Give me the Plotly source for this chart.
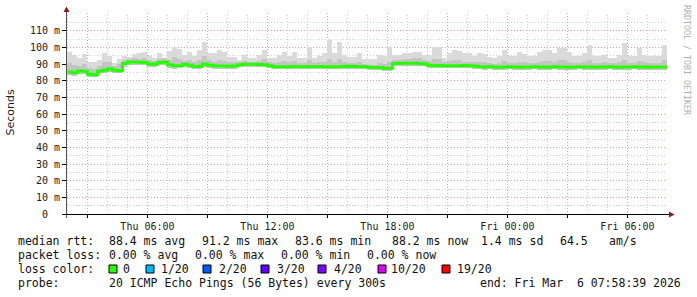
import plotly.graph_objects as go
import pandas as pd

# ---- data (ms), 15-minute buckets starting Thu 2026-03-05 02:00 ----
start_time = "2026-03-05 02:00:00"
period = "15min"

median_rtt = [
    85.2, 84.8, 85.8, 85.6, 83.8, 83.6, 85.8, 86.3, 87.1, 86.2,
    86.0, 90.3, 91.2, 91.2, 91.1, 90.9, 90.0, 89.8, 90.9, 91.2,
    89.5, 88.9, 88.9, 89.8, 89.2, 88.5, 88.6, 90.0, 89.2, 88.9,
    88.8, 88.8, 88.7, 88.8, 89.6, 89.8, 89.9, 89.8, 89.7, 89.6,
    89.0, 88.4, 88.3, 88.4, 88.4, 88.5, 88.4, 88.4, 88.3, 88.4,
    88.5, 88.4, 88.4, 88.3, 88.4, 88.5, 88.6, 88.5, 88.4, 88.4,
    88.0, 87.9, 87.9, 87.4, 87.4, 90.3, 90.4, 90.4, 90.5, 90.4,
    90.3, 90.2, 89.3, 89.0, 89.1, 89.0, 88.9, 89.0, 89.0, 89.1,
    88.9, 88.8, 88.3, 88.2, 88.3, 88.2, 88.1, 88.2, 88.3, 88.2,
    88.1, 88.2, 88.2, 88.3, 88.2, 88.1, 88.2, 88.3, 88.2, 88.2,
    88.1, 88.2, 88.3, 88.2, 88.2, 88.1, 88.2, 88.2, 88.3, 88.2,
    88.1, 88.2, 88.2, 88.3, 88.2, 88.2, 88.1, 88.2, 88.2, 88.2,
]

smoke_max = [
    97.5, 95.5, 93.6, 96.0, 91.0, 91.5, 92.5, 96.5, 95.0, 90.5,
    93.0, 94.6, 94.0, 96.0, 96.5, 97.5, 95.0, 93.5, 96.5, 92.5,
    98.0, 100.5, 99.0, 95.5, 97.5, 94.6, 98.5, 103.5, 96.5, 96.5,
    98.5, 97.0, 94.0, 94.0, 92.5, 95.6, 93.5, 93.5, 95.6, 98.5,
    93.5, 93.5, 95.6, 97.5, 94.6, 97.5, 93.5, 93.5, 100.5, 93.5,
    95.0, 96.5, 104.6, 96.5, 103.5, 95.6, 94.0, 94.0, 96.5, 93.0,
    93.0, 93.0, 95.5, 94.6, 100.5, 95.6, 95.6, 96.5, 96.5, 97.5,
    97.5, 95.6, 95.6, 100.5, 100.5, 93.5, 96.5, 98.5, 98.0, 96.5,
    96.5, 94.6, 96.5, 96.0, 94.0, 93.5, 94.6, 98.5, 94.6, 94.6,
    97.5, 96.0, 94.6, 94.6, 97.5, 98.5, 98.5, 96.5, 99.5, 99.5,
    97.5, 94.6, 94.6, 96.5, 101.6, 94.6, 94.6, 95.6, 93.5, 93.5,
    95.6, 102.6, 94.6, 94.6, 99.5, 95.6, 94.6, 94.6, 94.6, 101.6,
]

smoke_mid = [
    90.5, 89.5, 89.0, 90.0, 87.5, 87.0, 89.0, 91.0, 91.5, 89.0,
    90.0, 92.5, 93.0, 93.5, 93.0, 93.5, 92.5, 92.0, 93.0, 93.5,
    92.5, 94.0, 93.0, 92.0, 92.5, 91.0, 92.5, 95.0, 92.5, 91.5,
    92.5, 92.0, 91.0, 91.0, 91.5, 92.0, 91.5, 91.5, 92.0, 93.0,
    91.0, 90.5, 91.5, 92.0, 91.0, 92.0, 90.5, 90.5, 92.5, 90.5,
    91.0, 91.5, 93.0, 91.5, 93.0, 91.0, 90.5, 90.5, 91.5, 90.0,
    89.5, 89.5, 90.5, 90.0, 91.5, 92.5, 92.5, 93.0, 93.0, 93.5,
    93.5, 92.5, 92.0, 93.0, 93.0, 91.0, 92.0, 92.5, 92.5, 91.5,
    91.5, 91.0, 91.0, 91.0, 90.5, 90.0, 90.5, 92.0, 90.5, 90.5,
    91.5, 91.0, 90.5, 90.5, 91.5, 92.0, 92.0, 91.0, 92.5, 92.5,
    91.5, 90.5, 90.5, 91.5, 92.5, 90.5, 90.5, 91.0, 90.5, 90.5,
    91.0, 92.5, 90.5, 90.5, 92.0, 91.0, 90.5, 90.5, 90.5, 92.5,
]

smoke_min = [
    83.5, 83.0, 84.0, 84.0, 82.5, 82.3, 84.0, 84.5, 85.5, 84.5,
    84.5, 88.5, 89.5, 89.5, 89.5, 89.3, 88.5, 88.3, 89.3, 89.5,
    87.8, 87.3, 87.4, 88.2, 87.6, 87.0, 87.1, 88.3, 87.6, 87.3,
    87.2, 87.3, 87.2, 87.2, 88.0, 88.2, 88.3, 88.2, 88.1, 88.0,
    87.4, 86.9, 86.8, 86.9, 86.9, 87.0, 86.9, 86.9, 86.8, 86.9,
    87.0, 86.9, 86.9, 86.8, 86.9, 87.0, 87.1, 87.0, 86.9, 86.9,
    86.5, 86.3, 86.3, 85.9, 85.9, 88.8, 88.9, 88.9, 89.0, 88.9,
    88.8, 88.7, 87.8, 87.5, 87.6, 87.5, 87.4, 87.5, 87.5, 87.6,
    87.4, 87.3, 86.8, 86.7, 86.8, 86.7, 86.6, 86.7, 86.8, 86.7,
    86.6, 86.7, 86.7, 86.8, 86.7, 86.6, 86.7, 86.8, 86.7, 86.7,
    86.6, 86.7, 86.8, 86.7, 86.7, 86.6, 86.7, 86.7, 86.8, 86.7,
    86.6, 86.7, 86.7, 86.8, 86.7, 86.7, 86.6, 86.7, 86.7, 86.7,
]

y_tick_vals = [0, 10, 20, 30, 40, 50, 60, 70, 80, 90, 100, 110]
y_tick_text = ["0\u00a0\u00a0", "10 m", "20 m", "30 m", "40 m", "50 m", "60 m",
               "70 m", "80 m", "90 m", "100 m", "110 m"]
x_label_times = ["2026-03-05 06:00", "2026-03-05 12:00", "2026-03-05 18:00",
                 "2026-03-06 00:00", "2026-03-06 06:00"]
x_label_text = ["Thu 06:00", "Thu 12:00", "Thu 18:00", "Fri 00:00", "Fri 06:00"]
x_start = "2026-03-05 01:58:39"
x_end = "2026-03-06 07:58:39"

loss_labels = ["0", "1/20", "2/20", "3/20", "4/20", "10/20", "19/20"]
loss_colors = ["#26ff00", "#00b8ff", "#0059ff", "#5e00ff", "#7e00ff", "#dd00ff", "#ff0000"]

# ---- geometry helpers (pixel -> paper) ----
W, H = 697, 297
ML, MR, MT, MB = 67, 30, 13, 83
PW, PH = W - ML - MR, H - MT - MB


def px(x):
    return (x - ML) / PW


def py(y):
    return (H - MB - y) / PH


times = pd.date_range(start_time, periods=len(median_rtt), freq=period)
step = pd.Timedelta(period)
centers = times + step / 2
width_ms = step.total_seconds() * 1000

fig = go.Figure()

# outer smoke
fig.add_trace(go.Bar(
    x=centers, base=smoke_min, y=[h - l for h, l in zip(smoke_max, smoke_min)],
    width=width_ms, marker=dict(color="#dadada", line=dict(width=0)),
    hoverinfo="skip", showlegend=False))
# inner smoke
fig.add_trace(go.Bar(
    x=centers, base=smoke_min, y=[h - l for h, l in zip(smoke_mid, smoke_min)],
    width=width_ms, marker=dict(color="#c4c4c4", line=dict(width=0)),
    hoverinfo="skip", showlegend=False))

# median line (green: 0 loss)
line_x = list(times) + [times[-1] + step]
line_y = list(median_rtt) + [median_rtt[-1]]
fig.add_trace(go.Scatter(
    x=line_x, y=line_y, mode="lines", line=dict(color=loss_colors[0], width=3, shape="hv"),
    hoverinfo="skip", showlegend=False))

mono = "DejaVu Sans Mono"

fig.update_layout(
    width=W, height=H,
    margin=dict(l=ML, r=MR, t=MT, b=MB, pad=0),
    paper_bgcolor="white", plot_bgcolor="white",
    barmode="overlay", bargap=0,
    showlegend=False,
    font=dict(family=mono, size=10, color="#222"),
)

fig.update_xaxes(
    type="date", range=[x_start, x_end],
    tickmode="array", tickvals=x_label_times, ticktext=x_label_text,
    showgrid=True, gridcolor="#e6a0a0", griddash="1px,2px", gridwidth=1,
    ticks="outside", ticklen=3, tickcolor="#000",
    tickfont=dict(family=mono, size=10, color="#222"),
    minor=dict(dtick=3 * 3600000, tick0="2026-03-05 03:00", showgrid=True,
               gridcolor="#e6a0a0", griddash="1px,2px", ticks="outside", ticklen=3, tickcolor="#000"),
    showline=False, zeroline=False, fixedrange=True,
)
# hourly gray grid lines
hour_grid = pd.date_range("2026-03-05 02:00", "2026-03-06 07:00", freq="1h")
for t in hour_grid:
    if t.hour % 3 == 0:
        continue
    fig.add_shape(type="line", xref="x", yref="paper", x0=t, x1=t, y0=0, y1=1,
                  line=dict(color="#cfcfcf", width=1, dash="1px,2px"), layer="below")

fig.update_yaxes(
    range=[0, 120.6],
    tickmode="array", tickvals=y_tick_vals, ticktext=y_tick_text,
    showgrid=True, gridcolor="#e6a0a0", griddash="1px,2px", gridwidth=1,
    ticks="outside", ticklen=4, tickcolor="#000",
    tickfont=dict(family=mono, size=10, color="#222"),
    minor=dict(dtick=5, tick0=5, showgrid=True, gridcolor="#cfcfcf", griddash="1px,2px"),
    showline=False, zeroline=False, fixedrange=True,
)

# axes lines and arrows
fig.add_shape(type="line", xref="paper", yref="paper", x0=px(66.5), x1=px(66.5),
              y0=py(218), y1=py(10), line=dict(color="#555", width=1))
fig.add_shape(type="line", xref="paper", yref="paper", x0=px(62), x1=px(670),
              y0=py(214.5), y1=py(214.5), line=dict(color="#000", width=1))
fig.add_shape(type="path", xref="paper", yref="paper",
              path=f"M {px(63.5)} {py(12)} L {px(69.5)} {py(12)} L {px(66.5)} {py(6.5)} Z",
              fillcolor="#8b1a1a", line=dict(width=0))
fig.add_shape(type="path", xref="paper", yref="paper",
              path=f"M {px(669)} {py(211.5)} L {px(669)} {py(217.5)} L {px(674.5)} {py(214.5)} Z",
              fillcolor="#8b1a1a", line=dict(width=0))

# y title
fig.add_annotation(xref="paper", yref="paper", x=px(10.5), y=py(113), text="Seconds",
                   showarrow=False, textangle=-90, xanchor="center", yanchor="middle",
                   font=dict(family="DejaVu Sans", size=11, color="#222"))
# watermark
fig.add_annotation(xref="paper", yref="paper", x=px(687), y=py(60), text="RRDTOOL / TOBI OETIKER",
                   showarrow=False, textangle=90, xanchor="center", yanchor="middle",
                   font=dict(family=mono, size=8.3, color="#b0b0b0"))

LF = 11.5


def txt(x, y, s):
    fig.add_annotation(xref="paper", yref="paper", x=px(x), y=py(y), text=s,
                       showarrow=False, xanchor="left", yanchor="middle",
                       font=dict(family=mono, size=LF, color="#111"))


s = "\u00a0"
# legend line 1
txt(16, 241, "median rtt:")
txt(107, 241, "88.4 ms avg")
txt(200, 241, "91.2 ms max")
txt(293, 241, "83.6 ms min")
txt(390, 241, "88.2 ms now")
txt(479, 241, "1.4 ms sd")
txt(558, 241, "64.5")
txt(607, 241, "am/s")
# line 2
txt(16, 255, "packet loss:")
txt(107, 255, "0.00 % avg")
txt(193, 255, "0.00 % max")
txt(279, 255, "0.00 % min")
txt(365, 255, "0.00 % now")
# line 3
txt(16, 269, "loss color:")
box_x = [109, 146, 203, 261, 318, 378, 442]
label_x = [121, 159, 217, 275, 332, 389, 455]
for bx, lx, lab, col in zip(box_x, label_x, loss_labels, loss_colors):
    fig.add_shape(type="rect", xref="paper", yref="paper",
                  x0=px(bx), x1=px(bx + 8), y0=py(273), y1=py(265),
                  fillcolor=col, line=dict(color="#000", width=1))
    txt(lx, 269, lab)
# line 4
txt(16, 283, "probe:")
txt(107, 283, "20 ICMP Echo Pings (56 Bytes) every 300s")
txt(478, 283, "end: Fri Mar" + s + s + "6 07:58:39 2026")

fig.write_html("out.html")
